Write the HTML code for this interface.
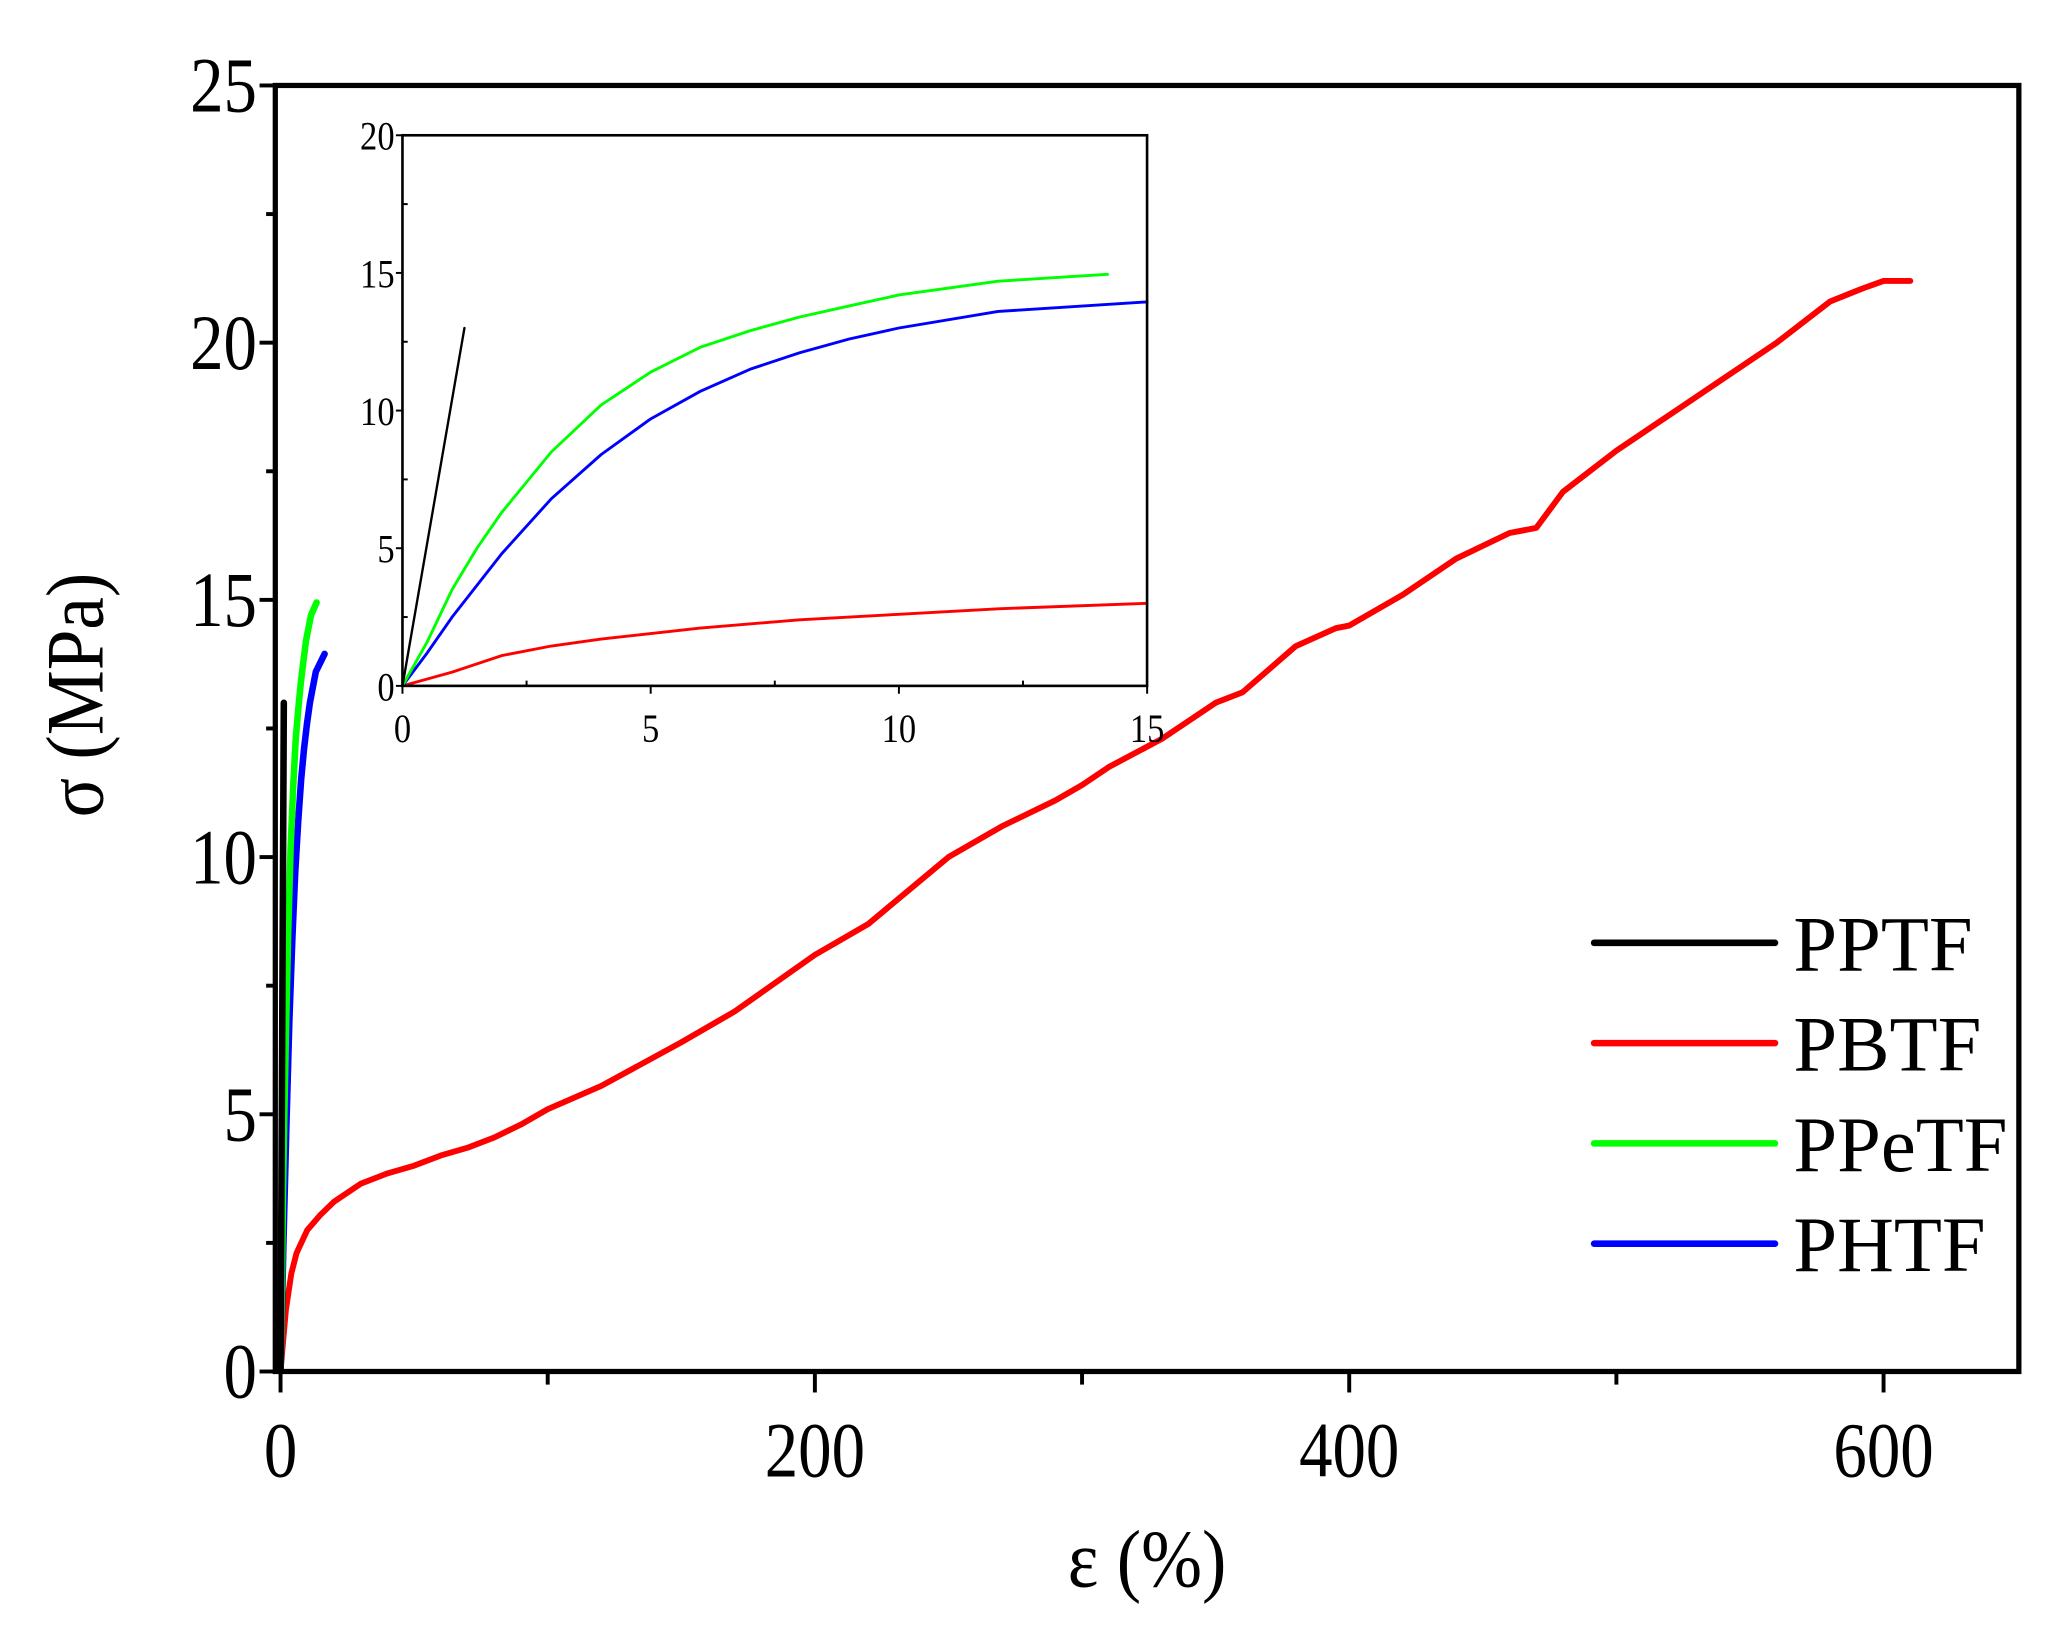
<!DOCTYPE html>
<html><head><meta charset="utf-8"><style>html,body{margin:0;padding:0;background:#fff}svg{display:block}text{font-family:"Liberation Serif",serif}</style></head>
<body>
<svg id="s" width="2049" height="1630" viewBox="0 0 1563 1243" xmlns="http://www.w3.org/2000/svg">
<rect width="1563" height="1243" fill="#fff"/>
<g id="g"></g>
</svg>
<script>
const NS="http://www.w3.org/2000/svg",g=document.getElementById('g');
function el(t,a,txt){const e=document.createElementNS(NS,t);for(const k in a)e.setAttribute(k,a[k]);if(txt!==undefined)e.textContent=txt;g.appendChild(e);return e;}
function ctext(x,y,size,anchor,txt,sx){el('text',{x:0,y:0,'font-size':size,'text-anchor':anchor,transform:`translate(${x},${y}) scale(${sx},1)`},txt);}
const L=210,R=1540,T=65,B=1046;
const mx=x=>214+2.038*x, my=y=>1046-39.24*y;
function poly(pts,fx,fy,col,w){el('polyline',{points:pts.map(p=>fx(p[0]).toFixed(1)+','+fy(p[1]).toFixed(1)).join(' '),fill:'none',stroke:col,'stroke-width':w,'stroke-linejoin':'round','stroke-linecap':'round'});}
const red=[[0,0],[1,0.6],[2,1.2],[4,1.9],[6,2.3],[10,2.75],[15,3.05],[20,3.3],[30,3.65],[40,3.85],[50,4.0],[60,4.2],[70,4.35],[80,4.55],[90,4.8],[100,5.1],[120,5.55],[150,6.4],[170,7.0],[200,8.1],[220,8.7],[250,10],[270,10.6],[290,11.1],[300,11.4],[310,11.75],[330,12.3],[350,13.0],[360,13.2],[380,14.1],[395,14.45],[400,14.5],[420,15.1],[440,15.8],[460,16.3],[470,16.4],[480,17.1],[500,17.9],[520,18.6],[540,19.3],[560,20.0],[580,20.8],[592,21.05],[600,21.2],[610,21.2]];
const green=[[0,0],[0.5,1.6],[1,3.5],[1.5,5],[2,6.3],[3,8.5],[4,10.2],[5,11.4],[6,12.3],[7,12.9],[8,13.4],[9,13.8],[10,14.2],[12,14.7],[14.2,14.95]];
const blue=[[0,0],[0.5,1.2],[1,2.5],[2,4.8],[3,6.8],[4,8.4],[5,9.7],[6,10.7],[7,11.5],[8,12.1],[9,12.6],[10,13],[12,13.6],[15,13.95]];
const redi=[[0,0],[1,0.5],[2,1.1],[3,1.45],[4,1.7],[5,1.9],[6,2.1],[8,2.4],[10,2.6],[12,2.8],[15,3.0]];
const black=[[0,0],[1.25,13]];
poly(red,mx,my,'#f00',4.5);
poly(blue,x=>mx(x*1.1),my,'#00f',5);
poly(green,x=>mx(x*0.95),my,'#0f0',5);
poly(black,x=>mx(x*1.0),my,'#000',5);
el('rect',{x:L,y:T,width:R-L,height:B-T,fill:'none',stroke:'#000','stroke-width':4});
for(let v=0;v<=25;v+=2.5){const y=my(v);el('line',{x1:L-(v%5==0?12:7),x2:L,y1:y,y2:y,stroke:'#000','stroke-width':3});if(v%5==0)ctext(L-14,y+20,60,'end',v,0.85);}
for(let v=0;v<=600;v+=100){const x=mx(v);el('line',{x1:x,x2:x,y1:B,y2:B+(v%200==0?16:10),stroke:'#000','stroke-width':3});if(v%200==0)ctext(x,B+80,60,'middle',v,0.85);}
ctext(875,1210,62,'middle','ε (%)',0.9);
el('text',{x:0,y:0,'font-size':62,'text-anchor':'middle',transform:'translate(78,530) rotate(-90) scale(0.9,1)'},'σ (MPa)');
const leg=[['PPTF','#000'],['PBTF','#f00'],['PPeTF','#0f0'],['PHTF','#00f']];
leg.forEach((l,i)=>{const y=719+i*76.5;el('line',{x1:1216,x2:1354,y1:y,y2:y,stroke:l[1],'stroke-width':5,'stroke-linecap':'round'});el('text',{x:1368,y:y+21,'font-size':60},l[0]);});
const iL=307,iR=875,iT=103,iB=523;
const ix=x=>iL+37.87*x, iy=y=>iB-21*y;
el('rect',{x:iL,y:iT,width:iR-iL,height:iB-iT,fill:'#fff',stroke:'none'});
poly(redi,ix,iy,'#f00',2.2);
poly(blue,ix,iy,'#00f',2.2);
poly(green,ix,iy,'#0f0',2.2);
poly(black,ix,iy,'#000',1.8);
el('rect',{x:iL,y:iT,width:iR-iL,height:iB-iT,fill:'none',stroke:'#000','stroke-width':2});
for(let v=0;v<=20;v+=2.5){const y=iy(v);el('line',{x1:iL-(v%5==0?5:0),x2:iL+(v%5==0?0:4),y1:y,y2:y,stroke:'#000','stroke-width':1.5});if(v%5==0)ctext(iL-6,y+11,31,'end',v,0.85);}
for(let v=0;v<=15;v+=2.5){const x=ix(v);el('line',{x1:x,x2:x,y1:iB,y2:iB+(v%5==0?6:-4),stroke:'#000','stroke-width':1.5});if(v%5==0)ctext(x,iB+43,31,'middle',v,0.85);}
</script>
</body></html>
